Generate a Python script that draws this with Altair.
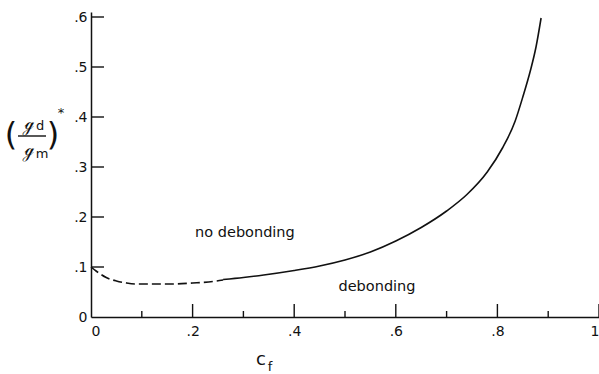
import altair as alt
import pandas as pd

# --- data ---
dash_x = [0.0, 0.01, 0.02, 0.03, 0.05, 0.07, 0.09, 0.12, 0.16, 0.20, 0.24, 0.26]
dash_y = [0.100, 0.092, 0.085, 0.079, 0.072, 0.068, 0.066, 0.066, 0.066, 0.068, 0.071, 0.074]

solid_x = [0.26, 0.30, 0.34, 0.40, 0.45, 0.50, 0.55, 0.60, 0.65, 0.70, 0.74, 0.78,
           0.81, 0.835, 0.85, 0.865, 0.876, 0.886]
solid_y = [0.075, 0.079, 0.084, 0.093, 0.102, 0.114, 0.130, 0.152, 0.179, 0.212, 0.245, 0.290,
           0.338, 0.392, 0.440, 0.493, 0.540, 0.598]

x_major_ticks = [0.2, 0.4, 0.6, 0.8, 1.0]
x_minor_ticks = [0.1, 0.3, 0.5, 0.7, 0.9]
y_ticks = [0.1, 0.2, 0.3, 0.4, 0.5, 0.6]

region_labels = ["no debonding", "debonding"]
region_x = [0.303, 0.563]
region_y = [0.168, 0.060]

# axis-title pieces: text, offset from plot origin (px), font size
title_text = ["c", "f", "(", "ℊ", "d", "ℊ", "m", ")", "*"]
title_px = [170, 179, -80, -62, -51, -62, -49, -38, -30]
title_py = [348, 355, 123, 112, 114, 138, 142, 123, 101]
title_fs = [18, 13, 32, 17, 13, 17, 13, 32, 13]

W, H = 508, 305
INK = "#111111"
FONT = "DejaVu Sans"
XMAX, YMAX = 1.0, 0.61


def px2x(p):
    return p / W * XMAX


def py2y(p):
    return (H - p) / H * YMAX


xscale = alt.Scale(domain=[0, XMAX], nice=False, zero=False)
yscale = alt.Scale(domain=[0, YMAX], nice=False, zero=False)

xaxis = alt.Axis(values=[0, 0.2, 0.4, 0.6, 0.8, 1.0], ticks=False, grid=False, title=None,
                 labelExpr="datum.value == 0 ? '0' : datum.value == 1 ? '1' : '.' + round(datum.value*10)",
                 labelFont=FONT, labelFontSize=14, labelColor=INK, labelPadding=7,
                 domainColor=INK, domainWidth=1.5)
yaxis = alt.Axis(values=[0, 0.1, 0.2, 0.3, 0.4, 0.5, 0.6], ticks=False, grid=False, title=None,
                 labelExpr="datum.value == 0 ? '0' : '.' + round(datum.value*10)",
                 labelFont=FONT, labelFontSize=14, labelColor=INK, labelPadding=4,
                 domainColor=INK, domainWidth=1.5)

# inward tick marks (lengths: pixels -> data units)
ylen = px2x(13)
xmaj_len = YMAX - py2y(13)
xmin_len = YMAX - py2y(6)

ytick_df = pd.DataFrame({"ry": y_ticks, "rx0": [0.0] * len(y_ticks), "rx1": [ylen] * len(y_ticks)})
ytick_rules = alt.Chart(ytick_df).mark_rule(color=INK, strokeWidth=1.4).encode(
    x=alt.X("rx0:Q", scale=xscale, axis=xaxis), x2="rx1:Q",
    y=alt.Y("ry:Q", scale=yscale, axis=yaxis))

xt = x_major_ticks + x_minor_ticks
xtick_df = pd.DataFrame({"qx": xt, "qy0": [0.0] * len(xt),
                         "qy1": [xmaj_len] * len(x_major_ticks) + [xmin_len] * len(x_minor_ticks)})
xtick_rules = alt.Chart(xtick_df).mark_rule(color=INK, strokeWidth=1.4).encode(
    x=alt.X("qx:Q", scale=xscale), y=alt.Y("qy0:Q", scale=yscale), y2="qy1:Q")

dash_df = pd.DataFrame({"x": dash_x, "y": dash_y})
solid_df = pd.DataFrame({"x": solid_x, "y": solid_y})

dashed = alt.Chart(dash_df).mark_line(
    color=INK, strokeWidth=1.6, strokeDash=[9, 4], interpolate="monotone").encode(
    x=alt.X("x:Q", scale=xscale), y=alt.Y("y:Q", scale=yscale))

solid = alt.Chart(solid_df).mark_line(
    color=INK, strokeWidth=1.6, interpolate="monotone").encode(
    x=alt.X("x:Q", scale=xscale), y=alt.Y("y:Q", scale=yscale))

region_df = pd.DataFrame({"label": region_labels, "x": region_x, "y": region_y})
region_text = alt.Chart(region_df).mark_text(font=FONT, fontSize=14.5, color=INK).encode(
    x=alt.X("x:Q", scale=xscale), y=alt.Y("y:Q", scale=yscale), text="label:N")

title_df = pd.DataFrame({"s": title_text,
                         "ax": [px2x(p) for p in title_px],
                         "ay": [py2y(p) for p in title_py],
                         "fs": title_fs})
title_layer = alt.Chart(title_df).mark_text(font=FONT, color=INK, align="center",
                                            baseline="middle").encode(
    x=alt.X("ax:Q", scale=xscale), y=alt.Y("ay:Q", scale=yscale),
    text="s:N", size=alt.Size("fs:Q", scale=None, legend=None))

bar_df = pd.DataFrame({"bx0": [px2x(-73)], "bx1": [px2x(-45)], "by": [py2y(124)]})
frac_bar = alt.Chart(bar_df).mark_rule(color=INK, strokeWidth=1.4).encode(
    x=alt.X("bx0:Q", scale=xscale), x2="bx1:Q", y=alt.Y("by:Q", scale=yscale))

chart = alt.layer(ytick_rules, xtick_rules, dashed, solid, region_text, title_layer,
                  frac_bar).properties(
    width=W, height=H,
    autosize=alt.AutoSizeParams(type="none"),
    padding={"left": 91, "top": 12, "right": 0, "bottom": 57},
).configure_view(stroke=None)

chart.save("out.html", embed_options={"renderer": "svg", "actions": False})
